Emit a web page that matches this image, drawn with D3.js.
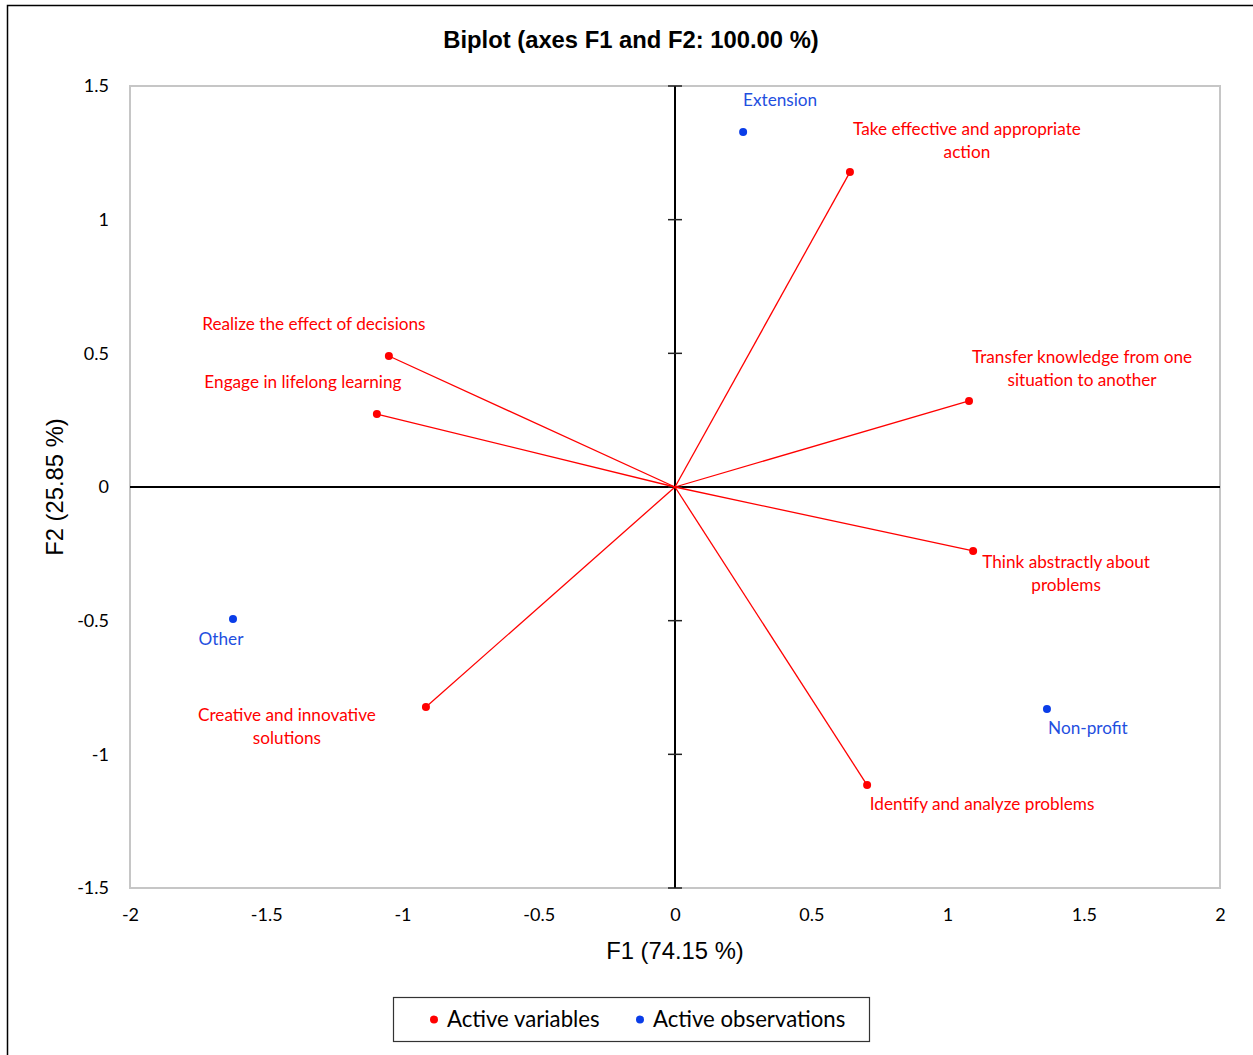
<!DOCTYPE html>
<html>
<head>
<meta charset="utf-8">
<script src="https://cdn.jsdelivr.net/npm/d3@7"></script>
<style>
  html, body { margin: 0; padding: 0; background: #fff; }
  svg { display: block; }
</style>
</head>
<body>
<svg id="chart" width="1253" height="1055"></svg>
<script>
// Active variables (loadings on F1 / F2)
const variableNames = [
  "Take effective and appropriate action",
  "Realize the effect of decisions",
  "Engage in lifelong learning",
  "Transfer knowledge from one situation to another",
  "Think abstractly about problems",
  "Identify and analyze problems",
  "Creative and innovative solutions"
];
const variableF1 = [0.642, -1.050, -1.094, 1.079, 1.094, 0.705, -0.914];
const variableF2 = [1.178, 0.490, 0.273, 0.322, -0.239, -1.115, -0.823];

// Active observations (scores on F1 / F2)
const observationNames = ["Extension", "Other", "Non-profit"];
const observationF1 = [0.250, -1.622, 1.365];
const observationF2 = [1.328, -0.494, -0.830];

// Axis ticks
const xTicks = [-2, -1.5, -1, -0.5, 0, 0.5, 1, 1.5, 2];
const yTicks = [-1.5, -1, -0.5, 0, 0.5, 1, 1.5];

// Label text lines and placement relative to each point (px)
const variableLabelLines = [
  ["Take effective and appropriate", "action"],
  ["Realize the effect of decisions"],
  ["Engage in lifelong learning"],
  ["Transfer knowledge from one", "situation to another"],
  ["Think abstractly about", "problems"],
  ["Identify and analyze problems"],
  ["Creative and innovative", "solutions"]
];
const variableLabelPos = [
  [117, -43], [-75, -32], [-74, -32], [113, -44], [93, 11], [115, 19], [-139, 8]
];
const observationLabelPos = [[37, -32], [-12, 20], [41, 19]];

const RED = "#ff0000";
const BLUE = "#0a3de8";
const BLUE_TEXT = "#1f4fe0";
const LABEL_FONT = "Lato, 'Open Sans', sans-serif";
const AXIS_FONT = "'Liberation Sans', Arial, sans-serif";

const svg = d3.select("#chart");

// Outer chart border
svg.append("rect")
  .attr("x", 7.5).attr("y", 5.5)
  .attr("width", 1260).attr("height", 1070)
  .attr("fill", "#fff").attr("stroke", "#000").attr("stroke-width", 1.5);

const plot = { left: 130, right: 1220, top: 86, bottom: 888 };

const x = d3.scaleLinear().domain([-2, 2]).range([plot.left, plot.right]);
const y = d3.scaleLinear().domain([-1.5, 1.5]).range([plot.bottom, plot.top]);

// Plot frame
svg.append("rect")
  .attr("x", plot.left).attr("y", plot.top)
  .attr("width", plot.right - plot.left).attr("height", plot.bottom - plot.top)
  .attr("fill", "none").attr("stroke", "#c6c6c6").attr("stroke-width", 2);

// Tick labels along the frame edges (plain hyphen for negatives)
const tickText = d => String(d);
const xAxis = svg.append("g")
  .attr("transform", `translate(0,${plot.bottom})`)
  .call(d3.axisBottom(x).tickValues(xTicks).tickFormat(tickText).tickSize(0).tickPadding(20));
const yAxis = svg.append("g")
  .attr("transform", `translate(${plot.left},0)`)
  .call(d3.axisLeft(y).tickValues(yTicks).tickFormat(tickText).tickSize(0).tickPadding(21));
[xAxis, yAxis].forEach(g => {
  g.select(".domain").remove();
  g.selectAll("text")
    .attr("font-family", LABEL_FONT)
    .attr("font-size", 18)
    .attr("fill", "#000");
});

// Zero axes through the origin
svg.append("line")
  .attr("x1", plot.left).attr("x2", plot.right)
  .attr("y1", y(0)).attr("y2", y(0))
  .attr("stroke", "#000").attr("stroke-width", 2);
svg.append("line")
  .attr("x1", x(0)).attr("x2", x(0))
  .attr("y1", plot.top).attr("y2", plot.bottom)
  .attr("stroke", "#000").attr("stroke-width", 2);
svg.append("g").selectAll("line")
  .data(yTicks)
  .join("line")
  .attr("x1", x(0) - 7).attr("x2", x(0) + 7)
  .attr("y1", d => y(d)).attr("y2", d => y(d))
  .attr("stroke", "#222").attr("stroke-width", 1.5);

// Variable vectors
const variables = variableNames.map((name, i) => ({
  name, f1: variableF1[i], f2: variableF2[i],
  lines: variableLabelLines[i], pos: variableLabelPos[i]
}));
const observations = observationNames.map((name, i) => ({
  name, f1: observationF1[i], f2: observationF2[i], pos: observationLabelPos[i]
}));

svg.append("g").selectAll("line")
  .data(variables)
  .join("line")
  .attr("x1", x(0)).attr("y1", y(0))
  .attr("x2", d => x(d.f1)).attr("y2", d => y(d.f2))
  .attr("stroke", RED).attr("stroke-width", 1.3);

svg.append("g").selectAll("circle")
  .data(variables)
  .join("circle")
  .attr("cx", d => x(d.f1)).attr("cy", d => y(d.f2))
  .attr("r", 4).attr("fill", RED);

const varLabels = svg.append("g").selectAll("text")
  .data(variables)
  .join("text")
  .attr("x", d => x(d.f1) + d.pos[0])
  .attr("y", d => y(d.f2) + d.pos[1])
  .attr("text-anchor", "middle")
  .attr("font-family", LABEL_FONT)
  .attr("font-size", 17.2)
  .attr("fill", RED);
varLabels.selectAll("tspan")
  .data(d => d.lines.map(l => ({ l, d })))
  .join("tspan")
  .attr("x", o => x(o.d.f1) + o.d.pos[0])
  .attr("dy", (o, i) => i === 0 ? "0.35em" : 23)
  .text(o => o.l);

// Observation points
svg.append("g").selectAll("circle")
  .data(observations)
  .join("circle")
  .attr("cx", d => x(d.f1)).attr("cy", d => y(d.f2))
  .attr("r", 4).attr("fill", BLUE);

svg.append("g").selectAll("text")
  .data(observations)
  .join("text")
  .attr("x", d => x(d.f1) + d.pos[0])
  .attr("y", d => y(d.f2) + d.pos[1])
  .attr("dy", "0.35em")
  .attr("text-anchor", "middle")
  .attr("font-family", LABEL_FONT)
  .attr("font-size", 17.2)
  .attr("fill", BLUE_TEXT)
  .text(d => d.name);

// Title and axis titles
svg.append("text")
  .attr("x", 631).attr("y", 48)
  .attr("text-anchor", "middle")
  .attr("font-family", AXIS_FONT)
  .attr("font-weight", "bold")
  .attr("font-size", 23.8)
  .text("Biplot (axes F1 and F2: 100.00 %)");

svg.append("text")
  .attr("x", x(0)).attr("y", 959)
  .attr("text-anchor", "middle")
  .attr("font-family", AXIS_FONT)
  .attr("font-size", 23.8)
  .text("F1 (74.15 %)");

svg.append("text")
  .attr("transform", `translate(63,${y(0)}) rotate(-90)`)
  .attr("text-anchor", "middle")
  .attr("font-family", AXIS_FONT)
  .attr("font-size", 23.8)
  .text("F2 (25.85 %)");

// Legend
const legend = svg.append("g");
legend.append("rect")
  .attr("x", 393.5).attr("y", 997.5)
  .attr("width", 476).attr("height", 44)
  .attr("fill", "#fff").attr("stroke", "#333").attr("stroke-width", 1.2);
const legendItems = [
  { label: "Active variables", color: RED, cx: 434 },
  { label: "Active observations", color: BLUE, cx: 640 }
];
legendItems.forEach(item => {
  legend.append("circle")
    .attr("cx", item.cx).attr("cy", 1019.5).attr("r", 4).attr("fill", item.color);
  legend.append("text")
    .attr("x", item.cx + 13).attr("y", 1019.5).attr("dy", "0.35em")
    .attr("font-family", LABEL_FONT)
    .attr("font-size", 22.2)
    .attr("fill", "#000")
    .text(item.label);
});
</script>
</body>
</html>
